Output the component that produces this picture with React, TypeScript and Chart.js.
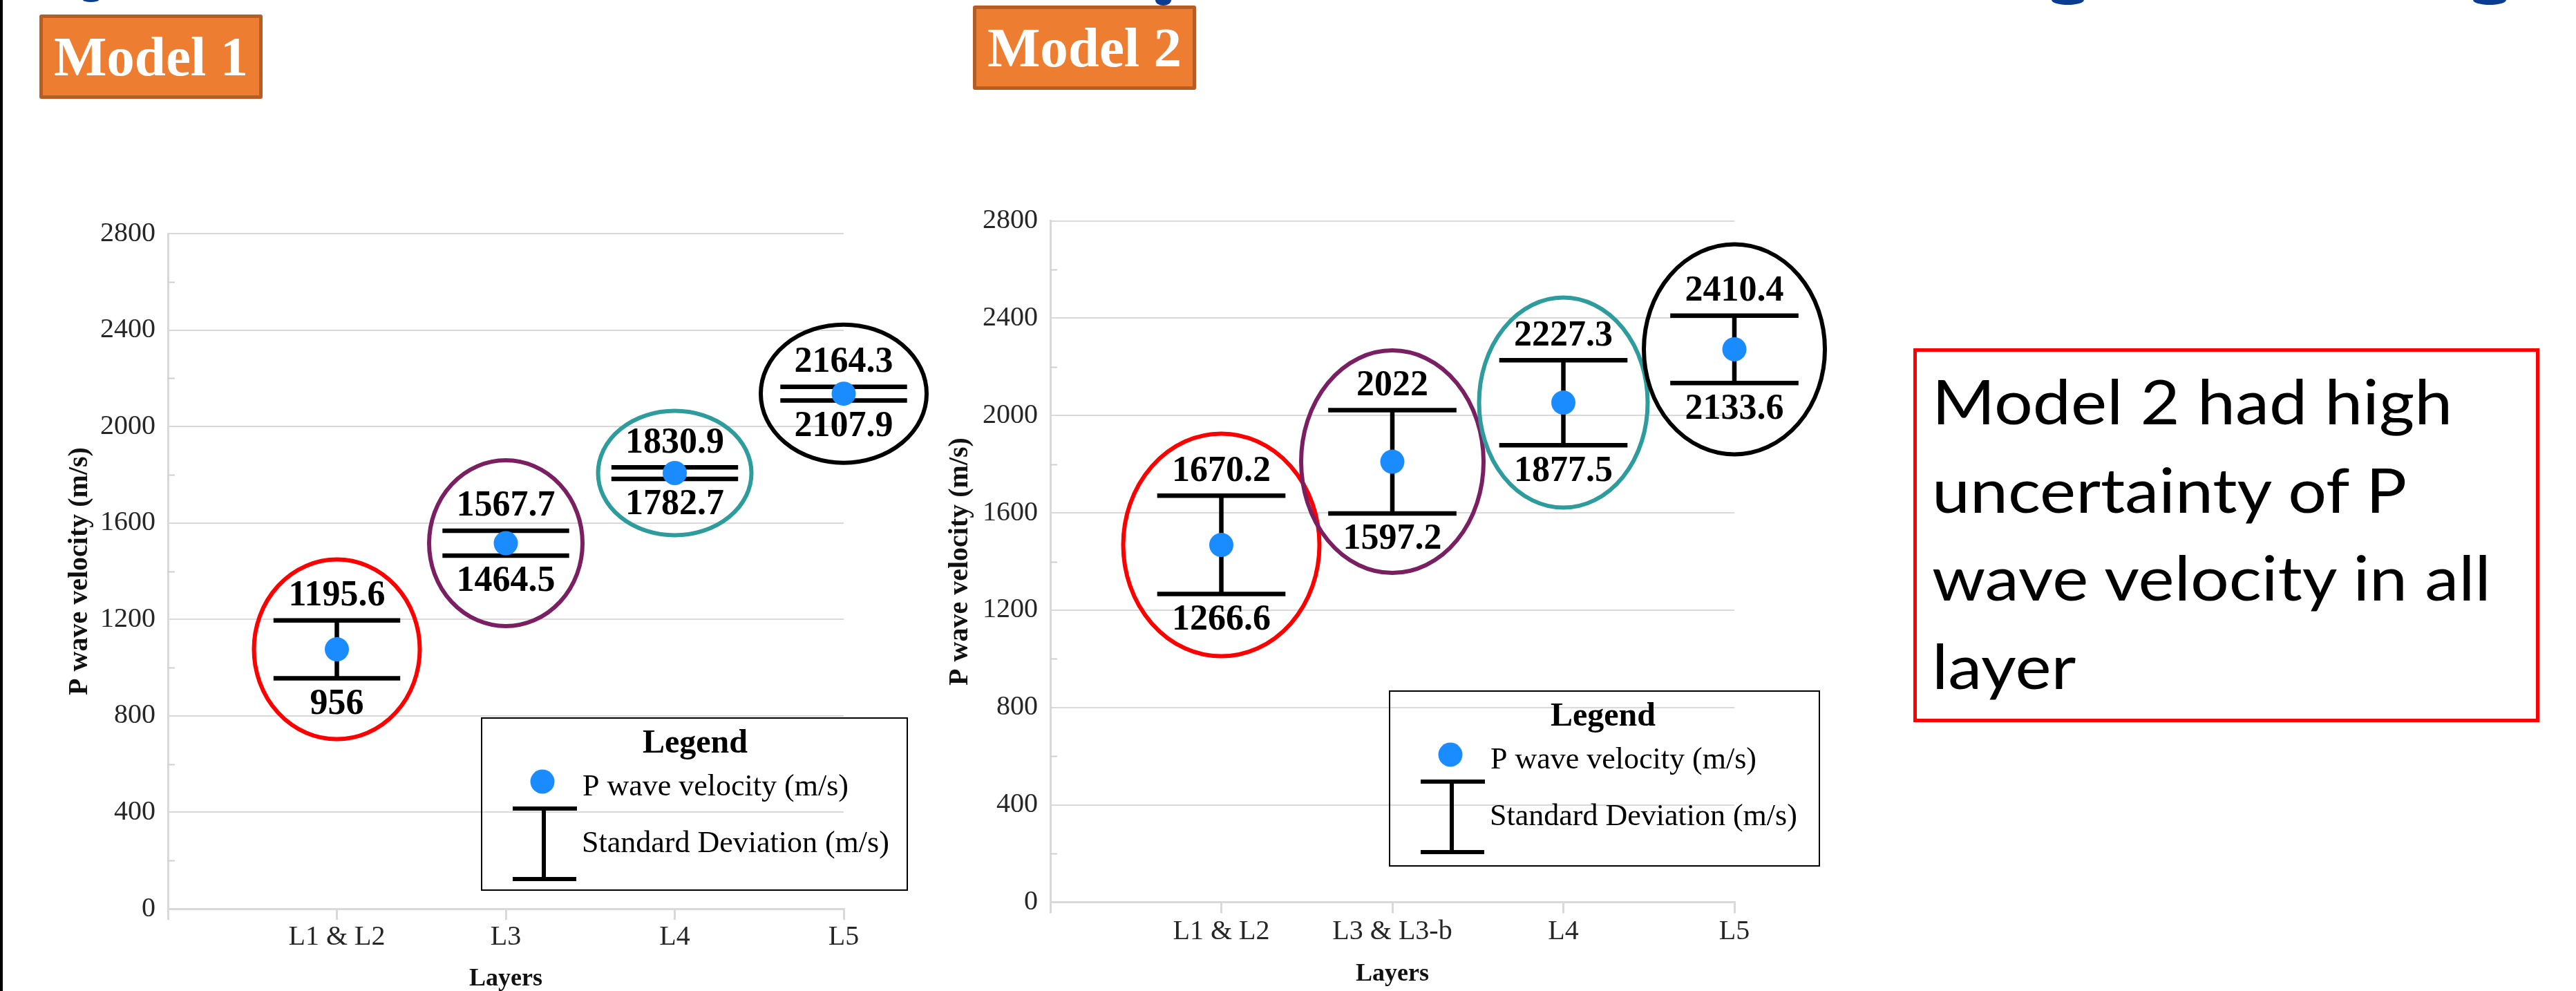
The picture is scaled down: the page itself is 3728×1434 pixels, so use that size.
import React, { useEffect, useRef } from 'react';
import { Chart, registerables } from 'chart.js';
Chart.register(...registerables);

const SERIF = "'Liberation Serif', 'Times New Roman', serif";

// ---- data ----
const model1Layers = ['L1 & L2', 'L3', 'L4', 'L5'];
const model1Velocity = [1076, 1516, 1807, 2136];
const model1Upper = [1195.6, 1567.7, 1830.9, 2164.3];
const model1Lower = [956, 1464.5, 1782.7, 2107.9];

const model2Layers = ['L1 & L2', 'L3 & L3-b', 'L4', 'L5'];
const model2Velocity = [1468, 1810, 2053, 2272];
const model2Upper = [1670.2, 2022, 2227.3, 2410.4];
const model2Lower = [1266.6, 1597.2, 1877.5, 2133.6];

const yAxisMin = 0;
const yAxisMax = 2800;
const yAxisStep = 400;

const legendTitle = 'Legend';
const legendItems = ['P wave velocity (m/s)', 'Standard Deviation (m/s)'];
const yTitle = 'P wave velocity (m/s)';
const xTitle = 'Layers';
const modelNames = ['Model 1', 'Model 2'];
const noteLines = ['Model 2 had high', 'uncertainty of P', 'wave velocity in all', 'layer'];

const ellipseColors = ['#ff0000', '#7a1f62', '#2e9c9c', '#000000'];

type PanelLayout = {
  left: number; top: number; width: number; height: number;
  area: [number, number, number, number];
  yTitlePad: number; xTitlePad: number; xTickPad: number;
  legend: [number, number, number, number];
  ellipses: [number, number][];
};

const layout1: PanelLayout = {
  left: 0, top: 250, width: 1400, height: 1250,
  area: [243, 88, 1221, 1065],
  yTitlePad: 92, xTitlePad: 62, xTickPad: 1,
  legend: [697, 789, 616, 249],
  ellipses: [[120, 130], [111, 120], [111, 90], [120, 100]],
};
const layout2: PanelLayout = {
  left: 1350, top: 250, width: 1400, height: 1250,
  area: [170, 69.5, 1160, 1055.5],
  yTitlePad: 16, xTitlePad: 69, xTickPad: 3,
  legend: [661, 750, 622, 253],
  ellipses: [[142, 161], [132, 161], [122, 152], [131, 152]],
};

function ChartPanel(props: { layers: string[]; velocity: number[]; upper: number[]; lower: number[]; L: PanelLayout }) {
  const { layers, velocity, upper, lower, L } = props;
  const ref = useRef<HTMLCanvasElement>(null);
  useEffect(() => {
    const canvas = ref.current!;
    const [aL, aT, aR, aB] = L.area;
    const overlay = {
      id: 'overlay',
      beforeDatasetsDraw(chart: any) {
        const { ctx } = chart;
        const xs = chart.scales.x;
        const ys = chart.scales.y;
        const unit = xs.getPixelForValue(1) - xs.getPixelForValue(0);
        ctx.save();
        // minor inward ticks on y axis
        ctx.strokeStyle = '#cfcfcf';
        ctx.lineWidth = 2;
        for (let v = yAxisMin + yAxisStep / 2; v < yAxisMax; v += yAxisStep) {
          const y = Math.round(ys.getPixelForValue(v)) + 0.5;
          ctx.beginPath();
          ctx.moveTo(chart.chartArea.left, y);
          ctx.lineTo(chart.chartArea.left + 10, y);
          ctx.stroke();
        }
        // error bars
        ctx.strokeStyle = '#000';
        ctx.lineWidth = 6.5;
        ctx.lineCap = 'butt';
        const h = unit * 0.375;
        upper.forEach((u, i) => {
          const x = xs.getPixelForValue(i + 1);
          const yu = ys.getPixelForValue(u);
          const yl = ys.getPixelForValue(lower[i]);
          ctx.beginPath();
          ctx.moveTo(x, yu);
          ctx.lineTo(x, yl);
          ctx.moveTo(x - h, yu);
          ctx.lineTo(x + h, yu);
          ctx.moveTo(x - h, yl);
          ctx.lineTo(x + h, yl);
          ctx.stroke();
        });
        ctx.restore();
      },
      afterDatasetsDraw(chart: any) {
        const { ctx } = chart;
        const xs = chart.scales.x;
        const ys = chart.scales.y;
        ctx.save();
        // ellipses
        ctx.lineWidth = 6;
        velocity.forEach((v, i) => {
          const x = xs.getPixelForValue(i + 1);
          const y = ys.getPixelForValue(v);
          ctx.strokeStyle = ellipseColors[i];
          ctx.beginPath();
          ctx.ellipse(x, y, L.ellipses[i][0], L.ellipses[i][1], 0, 0, Math.PI * 2);
          ctx.stroke();
        });
        // value labels
        ctx.fillStyle = '#000';
        ctx.font = `bold 52px ${SERIF}`;
        ctx.textAlign = 'center';
        ctx.textBaseline = 'middle';
        upper.forEach((u, i) => {
          const x = xs.getPixelForValue(i + 1);
          ctx.fillText(String(u), x, ys.getPixelForValue(u) - 35);
          ctx.fillText(String(lower[i]), x, ys.getPixelForValue(lower[i]) + 38);
        });
        // legend
        const [bx, by, bw, bh] = L.legend;
        ctx.lineWidth = 2;
        ctx.strokeStyle = '#000';
        ctx.strokeRect(bx, by, bw, bh);
        ctx.font = `bold 48px ${SERIF}`;
        ctx.fillText(legendTitle, bx + 309, by + 38);
        ctx.fillStyle = '#1a8cff';
        ctx.beginPath();
        ctx.arc(bx + 88, by + 92, 17.5, 0, Math.PI * 2);
        ctx.fill();
        ctx.fillStyle = '#000';
        ctx.font = `44px ${SERIF}`;
        ctx.textAlign = 'left';
        ctx.fillText(legendItems[0], bx + 146, by + 100);
        ctx.fillText(legendItems[1], bx + 145, by + 182);
        ctx.lineWidth = 6;
        ctx.beginPath();
        ctx.moveTo(bx + 45, by + 131);
        ctx.lineTo(bx + 138, by + 131);
        ctx.moveTo(bx + 90, by + 131);
        ctx.lineTo(bx + 90, by + 233);
        ctx.moveTo(bx + 45, by + 233);
        ctx.lineTo(bx + 137, by + 233);
        ctx.stroke();
        ctx.restore();
      },
    };
    const chart = new Chart(canvas, {
      type: 'scatter',
      data: {
        datasets: [
          {
            label: legendItems[0],
            data: velocity.map((v, i) => ({ x: i + 1, y: v })),
            pointRadius: 17.5,
            pointHoverRadius: 17.5,
            backgroundColor: '#1a8cff',
            borderWidth: 0,
            clip: false as any,
          },
        ],
      },
      options: {
        animation: false,
        responsive: false,
        maintainAspectRatio: false,
        devicePixelRatio: 1,
        events: [],
        layout: { padding: { left: 0, top: aT, right: L.width - aR, bottom: 0 } },
        plugins: { legend: { display: false }, tooltip: { enabled: false } },
        scales: {
          x: {
            type: 'linear',
            min: 0,
            max: layers.length,
            afterFit: (s: any) => { s.height = L.height - aB; },
            ticks: {
              stepSize: 1,
              autoSkip: false,
              maxRotation: 0,
              padding: L.xTickPad,
              color: '#262626',
              font: { family: SERIF, size: 40 },
              callback: (v: any) => layers[Number(v) - 1] ?? '',
            },
            grid: { drawOnChartArea: false, drawTicks: true, tickLength: 16, color: '#d9d9d9', lineWidth: 3 },
            border: { color: '#d9d9d9', width: 3 },
            title: {
              display: true,
              text: xTitle,
              color: '#111',
              font: { family: SERIF, size: 36, weight: 'bold' },
              padding: { top: 0, bottom: L.xTitlePad },
            },
          },
          y: {
            min: yAxisMin,
            max: yAxisMax,
            afterFit: (s: any) => { s.width = aL; },
            ticks: {
              stepSize: yAxisStep,
              padding: 18,
              color: '#262626',
              font: { family: SERIF, size: 40 },
              callback: (v: any) => String(v),
            },
            grid: { drawTicks: false, color: '#d9d9d9', lineWidth: 2 },
            border: { color: '#d9d9d9', width: 3 },
            title: {
              display: true,
              text: yTitle,
              color: '#111',
              font: { family: SERIF, size: 40, weight: 'bold' },
              padding: { top: L.yTitlePad, bottom: 0 },
            },
          },
        },
      } as any,
      plugins: [overlay],
    });
    return () => chart.destroy();
  }, []);
  return (
    <canvas
      ref={ref}
      width={L.width}
      height={L.height}
      style={{ position: 'absolute', left: L.left, top: L.top, width: L.width, height: L.height }}
    />
  );
}

function ModelTag({ text, left, top }: { text: string; left: number; top: number }) {
  return (
    <div
      style={{
        position: 'absolute', left, top, width: 323, height: 122, boxSizing: 'border-box',
        background: '#ed7d31', border: '5px solid #b55d23', borderRadius: 3,
        display: 'flex', alignItems: 'center', justifyContent: 'center',
        color: '#fff', fontFamily: SERIF, fontWeight: 'bold', fontSize: 81, lineHeight: 1,
      }}
    >
      {text}
    </div>
  );
}

const fragments = [
  { left: 120, w: 23, h: 3 },
  { left: 1672, w: 23, h: 8 },
  { left: 2969, w: 47, h: 7 },
  { left: 3579, w: 48, h: 7 },
];

export default function App() {
  return (
    <div style={{ position: 'absolute', left: 0, top: 0, width: 3728, height: 1434, overflow: 'hidden', background: '#fff' }}>
      <div style={{ position: 'absolute', left: 0, top: 0, width: 4, height: 1434, background: '#000' }} />
      {fragments.map((f, i) => (
        <div key={i} style={{ position: 'absolute', left: f.left, top: 0, width: f.w, height: f.h, background: '#0a3d91', borderRadius: '0 0 50% 50% / 0 0 100% 100%' }} />
      ))}
      <ModelTag text={modelNames[0]} left={57} top={21} />
      <ModelTag text={modelNames[1]} left={1408} top={8} />
      <ChartPanel layers={model1Layers} velocity={model1Velocity} upper={model1Upper} lower={model1Lower} L={layout1} />
      <ChartPanel layers={model2Layers} velocity={model2Velocity} upper={model2Upper} lower={model2Lower} L={layout2} />
      <div
        style={{
          position: 'absolute', left: 2769, top: 504, width: 906, height: 541, boxSizing: 'border-box',
          border: '5px solid #ff0000', padding: '7px 0 0 22px', overflow: 'hidden',
        }}
      >
        <div
          style={{
            fontFamily: 'Lato, Carlito, Calibri, sans-serif', fontSize: 90, lineHeight: '127.5px', color: '#000',
            whiteSpace: 'nowrap', transform: 'scaleX(1.095)', transformOrigin: '0 0',
          }}
        >
          {noteLines.map((l, i) => (
            <div key={i}>{l}</div>
          ))}
        </div>
      </div>
    </div>
  );
}
